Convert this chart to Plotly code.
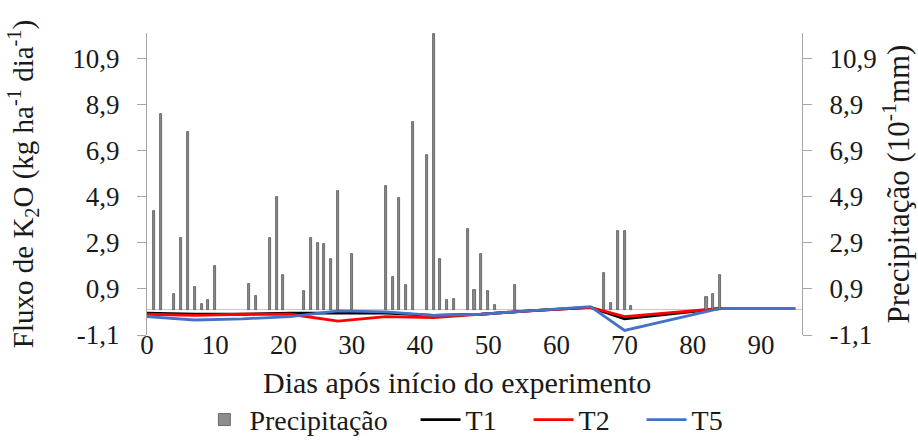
import plotly.graph_objects as go

# Precipitation (right axis)
rain_days = [1, 2, 4, 5, 6, 7, 8, 9, 10, 15, 16, 18, 19, 20, 23, 24, 25, 26, 27, 28, 30,
             35, 36, 37, 38, 39, 41, 42, 43, 44, 45, 47, 48, 49, 50, 51, 54,
             67, 68, 69, 70, 71, 82, 83, 84]
rain_vals = [4.3, 8.5, 0.7, 3.1, 7.7, 1.0, 0.25, 0.4, 1.9, 1.1, 0.6, 3.1, 4.9, 1.5, 0.8, 3.1, 2.9, 2.85, 2.2, 5.15, 2.4,
             5.35, 1.4, 4.85, 1.05, 8.15, 6.7, 11.95, 2.2, 0.4, 0.45, 3.5, 0.85, 2.4, 0.8, 0.2, 1.05,
             1.6, 0.3, 3.4, 3.4, 0.15, 0.55, 0.7, 1.5]

# K2O flux (left axis)
flux_days = [0, 7, 14, 21, 28, 35, 42, 49, 56, 65, 70, 84, 95]
t1 = [-0.15, -0.2, -0.2, -0.15, -0.15, -0.15, -0.25, -0.2, -0.05, 0.1, -0.4, 0.05, 0.05]
t2 = [-0.2, -0.25, -0.2, -0.2, -0.5, -0.3, -0.35, -0.2, -0.05, 0.1, -0.3, 0.05, 0.05]
t5 = [-0.3, -0.45, -0.4, -0.3, -0.05, -0.1, -0.25, -0.2, -0.05, 0.13, -0.9, 0.05, 0.05]

y_tickvals = [-1.1, 0.9, 2.9, 4.9, 6.9, 8.9, 10.9]
y_ticktext = ["-1,1", "0,9", "2,9", "4,9", "6,9", "8,9", "10,9"]
x_tickvals = [0, 10, 20, 30, 40, 50, 60, 70, 80, 90]

FONT = "'Liberation Serif', 'Times New Roman', serif"
TXT = "#1a1a1a"
AX = "#a6a6a6"

fig = go.Figure()
fig.add_trace(go.Bar(x=rain_days, y=rain_vals, name="Precipitação", yaxis="y2", legend="legend",
                     width=0.3, marker=dict(color="#8c8c8c", line=dict(color="#555555", width=0.8))))
fig.add_trace(go.Scatter(x=flux_days, y=t1, name="T1", mode="lines", legend="legend2",
                         line=dict(color="#000000", width=2.8)))
fig.add_trace(go.Scatter(x=flux_days, y=t2, name="T2", mode="lines", legend="legend2",
                         line=dict(color="#ff0000", width=2.8)))
fig.add_trace(go.Scatter(x=flux_days, y=t5, name="T5", mode="lines", legend="legend2",
                         line=dict(color="#4472c4", width=2.8)))

fig.update_layout(
    width=918, height=441,
    margin=dict(l=147, r=116, t=33, b=106, autoexpand=False),
    paper_bgcolor="white", plot_bgcolor="white",
    font=dict(family=FONT, size=26, color=TXT),
    showlegend=True,
    legend=dict(orientation="h", x=0.08, xanchor="left", y=-0.281, yanchor="middle",
                font=dict(family=FONT, size=28, color=TXT), itemwidth=40),
    legend2=dict(orientation="h", x=0.41, xanchor="left", y=-0.281, yanchor="middle",
                 font=dict(family=FONT, size=28, color=TXT), itemwidth=40,
                 entrywidth=58, entrywidthmode="pixels", traceorder="normal"),
    xaxis=dict(range=[0, 96], tickvals=x_tickvals, showgrid=False, zeroline=False,
               showline=False, ticks="", tickfont=dict(family=FONT, size=27),
               ticklabelstandoff=-9),
    yaxis=dict(range=[-1.1, 12.0], tickvals=y_tickvals, ticktext=y_ticktext, showgrid=False,
               zeroline=True, zerolinecolor="#c8c8c8", zerolinewidth=1,
               showline=True, linecolor=AX, linewidth=1, ticks="outside", ticklen=9, tickcolor=AX,
               ticklabelstandoff=12, tickfont=dict(family=FONT, size=27),
               title=dict(text="Fluxo de K<sub>2</sub>O (kg ha<sup>-1</sup> dia<sup>-1</sup>)",
                          font=dict(family=FONT, size=29), standoff=30)),
    yaxis2=dict(range=[-1.1, 12.0], tickvals=y_tickvals, ticktext=y_ticktext, overlaying="y",
                side="right", showgrid=False, zeroline=False,
                showline=True, linecolor=AX, linewidth=1, ticks="outside", ticklen=9, tickcolor=AX,
                ticklabelstandoff=12, tickfont=dict(family=FONT, size=27),
                title=dict(text="Precipitação (10<sup>-1</sup>mm)", font=dict(family=FONT, size=31), standoff=0)),
    bargap=0,
    annotations=[dict(text="Dias após início do experimento", xref="paper", yref="paper",
                      x=0.473, y=-0.156, xanchor="center", yanchor="middle", showarrow=False,
                      font=dict(family=FONT, size=30, color=TXT))],
)

fig.write_html("out.html")
